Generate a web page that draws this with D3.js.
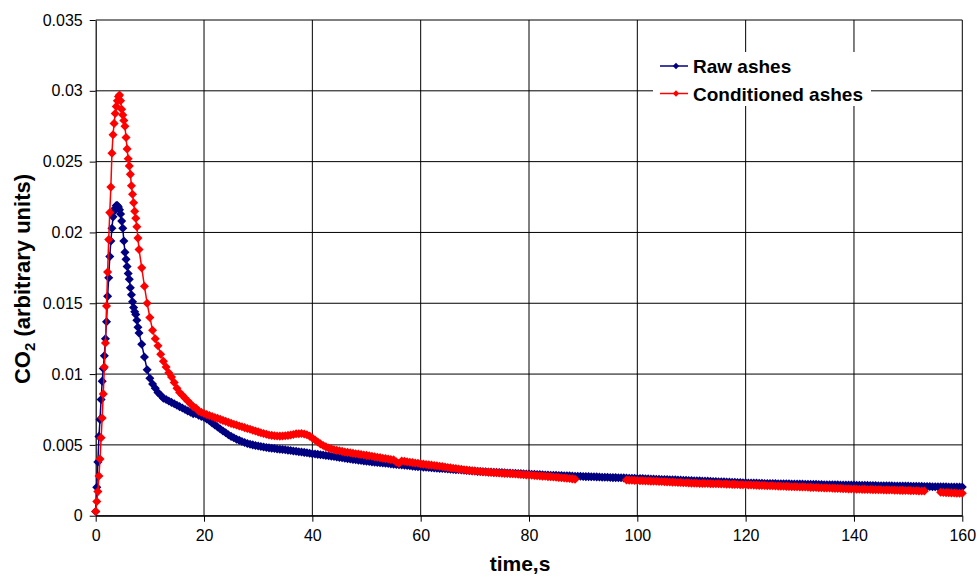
<!DOCTYPE html>
<html>
<head>
<meta charset="utf-8">
<script src="https://cdn.jsdelivr.net/npm/d3@7"></script>
<style>
  body { margin: 0; background: #fff; }
  svg { display: block; font-family: Arial, "Liberation Sans", sans-serif; }
</style>
</head>
<body>
<svg id="chart" width="979" height="577"></svg>
<script>
// time grid of the first part of the run (dense sampling around the peak)
const earlyTime = [0,0.2,0.4,0.6,0.8,1,1.2,1.4,1.6,1.8,2,2.2,2.4,2.6,2.8,3,3.2,3.4,3.6,3.8,
  4,4.2,4.4,4.6,4.8,5,5.2,5.4,5.6,5.8,6,6.2,6.4,6.6,6.8,7,7.2,7.4,7.6,7.8,8,
  8.5,9,9.5,10,10.5,11,11.5,12,12.5,13,13.5,14,14.5,15,15.5,16,16.5,17,17.5,18,18.5,19,19.5];

const rawEarly = [0.0003,0.0020,0.0038,0.0056,0.0068,0.0082,0.0095,0.0104,0.0113,0.0125,
  0.0137,0.0155,0.0168,0.0183,0.0194,0.0203,0.0211,0.0215,0.0217,0.0219,
  0.0219,0.0218,0.0216,0.0213,0.0208,0.0203,0.0194,0.0186,0.0181,0.0176,
  0.0171,0.0167,0.0161,0.0156,0.0151,0.0147,0.0144,0.0142,0.0138,0.0133,0.0129,
  0.0121,0.0112,0.0103,0.0097,0.0093,0.0090,0.0087,0.0085,0.0083,0.0082,0.0081,0.0080,
  0.0079,0.0078,0.0077,0.0076,0.0075,0.0074,0.0073,0.0072,0.0072,0.0071,0.0070];

const condEarly = [0.0003,0.0010,0.0017,0.0028,0.0040,0.0055,0.0069,0.0086,0.0105,0.0122,
  0.0148,0.0172,0.0195,0.0214,0.0232,0.0256,0.0269,0.0277,0.0284,0.0289,
  0.0293,0.0296,0.0297,0.0293,0.0287,0.0283,0.0279,0.0275,0.0267,0.0259,
  0.0252,0.0247,0.0241,0.0233,0.0227,0.0221,0.0215,0.0210,0.0204,0.0196,0.0188,
  0.0175,0.0162,0.0150,0.0140,0.0131,0.0125,0.0120,0.0114,0.0109,0.0105,0.0101,0.0098,
  0.0094,0.0090,0.0087,0.0085,0.0083,0.0081,0.0079,0.0077,0.0076,0.0074,0.0073];

// time grid of the tail, a reading every half second (rows of 10 s)
const tailTime = [
  20,20.5,21,21.5,22,22.5,23,23.5,24,24.5,25,25.5,26,26.5,27,27.5,28,28.5,29,29.5,
  30,30.5,31,31.5,32,32.5,33,33.5,34,34.5,35,35.5,36,36.5,37,37.5,38,38.5,39,39.5,
  40,40.5,41,41.5,42,42.5,43,43.5,44,44.5,45,45.5,46,46.5,47,47.5,48,48.5,49,49.5,
  50,50.5,51,51.5,52,52.5,53,53.5,54,54.5,55,55.5,56,56.5,57,57.5,58,58.5,59,59.5,
  60,60.5,61,61.5,62,62.5,63,63.5,64,64.5,65,65.5,66,66.5,67,67.5,68,68.5,69,69.5,
  70,70.5,71,71.5,72,72.5,73,73.5,74,74.5,75,75.5,76,76.5,77,77.5,78,78.5,79,79.5,
  80,80.5,81,81.5,82,82.5,83,83.5,84,84.5,85,85.5,86,86.5,87,87.5,88,88.5,89,89.5,
  90,90.5,91,91.5,92,92.5,93,93.5,94,94.5,95,95.5,96,96.5,97,97.5,98,98.5,99,99.5,
  100,100.5,101,101.5,102,102.5,103,103.5,104,104.5,105,105.5,106,106.5,107,107.5,108,108.5,109,109.5,
  110,110.5,111,111.5,112,112.5,113,113.5,114,114.5,115,115.5,116,116.5,117,117.5,118,118.5,119,119.5,
  120,120.5,121,121.5,122,122.5,123,123.5,124,124.5,125,125.5,126,126.5,127,127.5,128,128.5,129,129.5,
  130,130.5,131,131.5,132,132.5,133,133.5,134,134.5,135,135.5,136,136.5,137,137.5,138,138.5,139,139.5,
  140,140.5,141,141.5,142,142.5,143,143.5,144,144.5,145,145.5,146,146.5,147,147.5,148,148.5,149,149.5,
  150,150.5,151,151.5,152,152.5,153,153.5,154,154.5,155,155.5,156,156.5,157,157.5,158,158.5,159,159.5,
  160];

const rawTail = [
  0.00695,0.00683,0.00670,0.00655,0.00640,0.00626,0.00612,0.00598,0.00585,0.00572,0.00560,0.00550,0.00540,0.00532,0.00524,0.00517,0.00510,0.00505,0.00500,0.00496,
  0.00492,0.00488,0.00485,0.00482,0.00479,0.00476,0.00474,0.00471,0.00469,0.00467,0.00465,0.00462,0.00460,0.00457,0.00455,0.00452,0.00450,0.00447,0.00444,0.00441,
  0.00438,0.00435,0.00433,0.00430,0.00428,0.00425,0.00423,0.00420,0.00418,0.00415,0.00412,0.00409,0.00406,0.00403,0.00400,0.00397,0.00395,0.00392,0.00390,0.00387,
  0.00385,0.00382,0.00380,0.00378,0.00376,0.00374,0.00372,0.00370,0.00368,0.00366,0.00364,0.00362,0.00360,0.00358,0.00356,0.00354,0.00352,0.00350,0.00348,0.00346,
  0.00345,0.00343,0.00342,0.00340,0.00339,0.00337,0.00336,0.00334,0.00333,0.00331,0.00330,0.00328,0.00327,0.00325,0.00324,0.00322,0.00321,0.00319,0.00318,0.00316,
  0.00315,0.00313,0.00312,0.00311,0.00310,0.00309,0.00308,0.00307,0.00306,0.00305,0.00304,0.00303,0.00302,0.00301,0.00300,0.00299,0.00298,0.00297,0.00296,0.00295,
  0.00294,0.00293,0.00292,0.00291,0.00290,0.00289,0.00288,0.00287,0.00286,0.00285,0.00285,0.00284,0.00283,0.00282,0.00282,0.00281,0.00280,0.00279,0.00279,0.00278,
  0.00277,0.00276,0.00276,0.00275,0.00275,0.00274,0.00273,0.00272,0.00272,0.00271,0.00270,0.00269,0.00269,0.00268,0.00268,0.00267,0.00266,0.00265,0.00265,0.00264,
  0.00263,0.00262,0.00262,0.00261,0.00260,0.00259,0.00259,0.00258,0.00257,0.00256,0.00256,0.00255,0.00254,0.00253,0.00253,0.00252,0.00251,0.00250,0.00250,0.00249,
  0.00248,0.00247,0.00247,0.00246,0.00245,0.00244,0.00244,0.00243,0.00242,0.00241,0.00240,0.00239,0.00239,0.00238,0.00237,0.00236,0.00236,0.00235,0.00234,0.00233,
  0.00232,0.00231,0.00231,0.00230,0.00230,0.00229,0.00229,0.00228,0.00228,0.00227,0.00227,0.00227,0.00226,0.00226,0.00225,0.00225,0.00225,0.00224,0.00224,0.00223,
  0.00223,0.00223,0.00222,0.00222,0.00221,0.00221,0.00221,0.00220,0.00220,0.00219,0.00219,0.00219,0.00218,0.00218,0.00218,0.00217,0.00217,0.00217,0.00216,0.00216,
  0.00216,0.00215,0.00215,0.00215,0.00214,0.00214,0.00213,0.00213,0.00213,0.00212,0.00212,0.00212,0.00211,0.00211,0.00211,0.00210,0.00210,0.00210,0.00209,0.00209,
  0.00209,0.00208,0.00208,0.00208,0.00207,0.00207,0.00206,0.00206,0.00206,0.00205,0.00205,0.00205,0.00204,0.00204,0.00204,0.00203,0.00203,0.00203,0.00202,0.00202,
  0.00202];

// null = no reading (gaps in the conditioned ashes record)
const condTail = [
  0.00722,0.00715,0.00708,0.00701,0.00694,0.00687,0.00680,0.00673,0.00666,0.00659,0.00652,0.00646,0.00640,0.00634,0.00628,0.00622,0.00616,0.00610,0.00604,0.00598,
  0.00592,0.00586,0.00580,0.00575,0.00570,0.00567,0.00564,0.00563,0.00562,0.00563,0.00564,0.00567,0.00570,0.00574,0.00578,0.00579,0.00580,0.00577,0.00572,0.00562,
  0.00548,0.00534,0.00520,0.00507,0.00495,0.00486,0.00478,0.00472,0.00466,0.00462,0.00458,0.00454,0.00450,0.00447,0.00444,0.00441,0.00438,0.00435,0.00432,0.00429,
  0.00426,0.00423,0.00420,0.00416,0.00413,0.00410,0.00406,0.00403,0.00400,0.00397,0.00394,0.00380,0.00370,0.00386,0.00384,0.00381,0.00378,0.00375,0.00372,0.00370,
  0.00367,0.00364,0.00362,0.00359,0.00357,0.00354,0.00352,0.00349,0.00347,0.00344,0.00340,0.00338,0.00335,0.00333,0.00330,0.00328,0.00325,0.00323,0.00320,0.00318,
  0.00316,0.00314,0.00312,0.00310,0.00309,0.00307,0.00306,0.00304,0.00303,0.00301,0.00300,0.00299,0.00298,0.00297,0.00296,0.00294,0.00293,0.00291,0.00290,0.00288,
  0.00287,0.00285,0.00284,0.00282,0.00281,0.00279,0.00278,0.00276,0.00275,0.00273,0.00272,0.00270,0.00268,0.00266,0.00264,0.00262,0.00260,0.00258,null,null,
  null,null,null,null,null,null,null,null,null,null,null,null,null,null,null,null,0.00252,0.00251,0.00250,0.00249,
  0.00248,0.00247,0.00247,0.00246,0.00245,0.00244,0.00244,0.00243,0.00242,0.00241,0.00240,0.00239,0.00238,0.00237,0.00236,0.00235,0.00234,0.00233,0.00232,0.00231,
  0.00230,0.00229,0.00229,0.00228,0.00228,0.00227,0.00227,0.00226,0.00226,0.00225,0.00225,0.00224,0.00224,0.00223,0.00222,0.00221,0.00221,0.00220,0.00219,0.00218,
  0.00218,0.00217,0.00217,0.00216,0.00215,0.00214,0.00214,0.00213,0.00212,0.00211,0.00211,0.00210,0.00209,0.00208,0.00208,0.00207,0.00206,0.00205,0.00205,0.00204,
  0.00203,0.00202,0.00202,0.00201,0.00200,0.00199,0.00199,0.00198,0.00197,0.00196,0.00196,0.00195,0.00194,0.00193,0.00193,0.00192,0.00191,0.00190,0.00189,0.00188,
  0.00188,0.00187,0.00187,0.00186,0.00186,0.00185,0.00185,0.00184,0.00184,0.00183,0.00183,0.00182,0.00182,0.00181,0.00181,0.00180,0.00180,0.00179,0.00179,0.00178,
  0.00178,0.00177,0.00176,0.00176,0.00175,0.00175,0.00174,null,null,null,null,null,0.00165,0.00164,0.00163,0.00162,0.00161,0.00160,0.00159,0.00159,
  0.00158];

const xTicks = [0,20,40,60,80,100,120,140,160];
const yTicks = [0,0.005,0.01,0.015,0.02,0.025,0.03,0.035];

const seriesNames = ["Raw ashes", "Conditioned ashes"];
const seriesColors = ["#000080", "#ff0000"];

function zipSeries(times, values) {
  return times.map((t, i) => ({ t: t, v: values[i] }));
}

const series = [
  zipSeries(earlyTime, rawEarly).concat(zipSeries(tailTime, rawTail)),
  zipSeries(earlyTime, condEarly).concat(zipSeries(tailTime, condTail))
];

const svg = d3.select("#chart");

const x = d3.scaleLinear().domain([0, 160]).range([95.7, 962.3]);
const y = d3.scaleLinear().domain([0, 0.035]).range([515.7, 20]);

// grid
const grid = svg.append("g").attr("stroke", "#000").attr("stroke-width", 1);
grid.selectAll("line.h").data(yTicks).enter().append("line")
  .attr("x1", x(0)).attr("x2", x(160))
  .attr("y1", d => y(d)).attr("y2", d => y(d));
grid.selectAll("line.v").data(xTicks.slice(1)).enter().append("line")
  .attr("x1", d => x(d)).attr("x2", d => x(d))
  .attr("y1", y(0)).attr("y2", y(0.035));

// axes
const yAxis = svg.append("g")
  .attr("transform", `translate(${x(0)},0)`)
  .call(d3.axisLeft(y).tickValues(yTicks).tickSizeInner(6).tickSizeOuter(0).tickPadding(7)
    .tickFormat(d => d3.format("")(+d.toFixed(3))));
const xAxis = svg.append("g")
  .attr("transform", `translate(0,${y(0)})`)
  .call(d3.axisBottom(x).tickValues(xTicks).tickSizeInner(6).tickSizeOuter(0).tickPadding(8));

[yAxis, xAxis].forEach(a => {
  a.select(".domain").attr("stroke", "#000").attr("stroke-width", 1.2);
  a.selectAll(".tick line").attr("stroke", "#000");
  a.selectAll("text").attr("font-size", 16).attr("fill", "#000")
    .attr("font-family", "Arial, 'Liberation Sans', sans-serif");
});

// titles
svg.append("text")
  .attr("x", 520).attr("y", 571)
  .attr("text-anchor", "middle")
  .attr("font-size", 21).attr("font-weight", "bold")
  .text("time,s");

const yTitle = svg.append("text")
  .attr("transform", "translate(30,279) rotate(-90)")
  .attr("text-anchor", "middle")
  .attr("font-size", 22).attr("font-weight", "bold");
yTitle.append("tspan").text("CO");
yTitle.append("tspan").attr("font-size", 15).attr("dy", 5).text("2");
yTitle.append("tspan").attr("dy", -5).text(" (arbitrary units)");

// series
const line = d3.line()
  .defined(d => d.v !== null)
  .x(d => x(d.t))
  .y(d => y(d.v));

const diamond = d3.symbol().type(d3.symbolSquare).size(41);

series.forEach((data, i) => {
  const g = svg.append("g");
  g.append("path")
    .datum(data)
    .attr("d", line)
    .attr("fill", "none")
    .attr("stroke", seriesColors[i])
    .attr("stroke-width", 1.5);
  g.selectAll("path.m")
    .data(data.filter(d => d.v !== null))
    .enter().append("path")
    .attr("class", "m")
    .attr("d", diamond)
    .attr("transform", d => `translate(${x(d.t)},${y(d.v)}) rotate(45)`)
    .attr("fill", seriesColors[i]);
});

// legend
const legend = svg.append("g");
legend.append("rect")
  .attr("x", 653).attr("y", 52).attr("width", 218).attr("height", 54)
  .attr("fill", "#fff");
seriesNames.forEach((name, i) => {
  const ly = 66 + i * 27.5;
  legend.append("line")
    .attr("x1", 660).attr("x2", 688).attr("y1", ly).attr("y2", ly)
    .attr("stroke", seriesColors[i]).attr("stroke-width", 1.5);
  legend.append("path")
    .attr("d", d3.symbol().type(d3.symbolSquare).size(20))
    .attr("transform", `translate(676,${ly}) rotate(45)`)
    .attr("fill", seriesColors[i]);
  legend.append("text")
    .attr("x", 693).attr("y", ly + 7)
    .attr("font-size", 19).attr("font-weight", "bold")
    .text(name);
});
</script>
</body>
</html>
